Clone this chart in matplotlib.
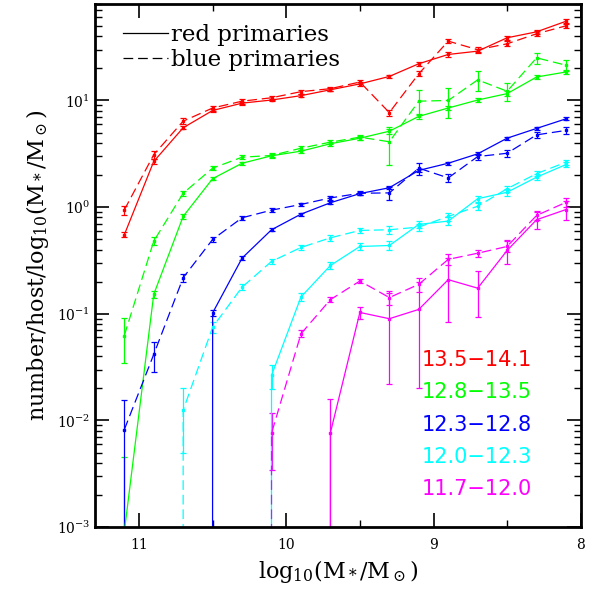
import numpy as np
import matplotlib
matplotlib.use('Agg')
import matplotlib.pyplot as plt
from matplotlib.lines import Line2D
from matplotlib.ticker import MultipleLocator, LogLocator

# stellar mass bin centres, log10(M*/Msun)
mstar = [11.1, 10.9, 10.7, 10.5, 10.3, 10.1, 9.9, 9.7, 9.5, 9.3, 9.1, 8.9, 8.7, 8.5, 8.3, 8.1]

# host halo mass ranges (labels) and colours
halo_bins = ['13.5\u221214.1', '12.8\u221213.5', '12.3\u221212.8', '12.0\u221212.3', '11.7\u221212.0']
colors = ['#ff0000', '#00ff00', '#0000ff', '#00ffff', '#ff00ff']

# red primaries (solid) / blue primaries (dashed), per halo bin
red_135 = [0.55, 2.68, 5.55, 8.06, 9.44, 10.1, 11.1, 12.6, 14.3, 16.8, 22.1, 27.0, 29.0, 38.7, 44.0, 55.3]
red_135_err = [0.03, 0.12, 0.2, 0.25, 0.3, 0.3, 0.35, 0.4, 0.5, 0.7, 0.9, 1.2, 1.4, 1.8, 2.2, 3.0]
blue_135 = [0.94, 3.1, 6.4, 8.5, 9.85, 10.6, 12.1, 12.9, 14.9, 7.7, 17.8, 36.0, 29.9, 34.0, 42.2, 50.1]
blue_135_err = [0.09, 0.25, 0.4, 0.45, 0.5, 0.5, 0.55, 0.6, 0.7, 0.5, 1.0, 1.5, 1.5, 1.8, 2.2, 2.6]

red_128 = [0.0009, 0.152, 0.82, 1.85, 2.58, 3.03, 3.35, 3.93, 4.43, 5.15, 7.1, 8.5, 10.1, 11.6, 16.6, 18.5]
red_128_err = [0.0036, 0.012, 0.04, 0.07, 0.09, 0.1, 0.12, 0.15, 0.18, 0.3, 0.35, 0.4, 0.45, 0.6, 0.7, 0.9]
blue_128 = [0.0625, 0.48, 1.35, 2.32, 2.94, 3.05, 3.57, 4.07, 4.53, 4.1, 9.85, 10.0, 15.6, 12.2, 25.1, 21.4]
blue_128_err = [0.028, 0.04, 0.08, 0.11, 0.13, 0.14, 0.16, 0.2, 0.25, 1.6, 2.6, 3.2, 3.3, 2.3, 3.0, 2.5]

red_123 = [0, 0, 0, 0.102, 0.333, 0.614, 0.86, 1.10, 1.34, 1.52, 2.21, 2.58, 3.16, 4.43, 5.47, 6.73]
red_123_err = [0, 0, 0, 0.006, 0.012, 0.02, 0.025, 0.03, 0.04, 0.05, 0.07, 0.08, 0.1, 0.13, 0.16, 0.2]
blue_123 = [0.0082, 0.0416, 0.218, 0.498, 0.795, 0.937, 1.06, 1.22, 1.35, 1.36, 2.32, 1.88, 2.98, 3.2, 4.76, 5.24]
blue_123_err = [0.0075, 0.013, 0.02, 0.025, 0.03, 0.035, 0.04, 0.05, 0.06, 0.2, 0.3, 0.17, 0.2, 0.25, 0.3, 0.4]

red_120 = [0, 0, 0, 0, 0, 0.0265, 0.144, 0.284, 0.428, 0.437, 0.689, 0.74, 1.2, 1.38, 1.91, 2.51]
red_120_err = [0, 0, 0, 0, 0, 0.0067, 0.012, 0.02, 0.03, 0.04, 0.05, 0.06, 0.08, 0.1, 0.12, 0.15]
blue_120 = [0, 0, 0.0125, 0.075, 0.178, 0.31, 0.419, 0.516, 0.605, 0.614, 0.65, 0.819, 1.02, 1.49, 2.06, 2.64]
blue_120_err = [0, 0, 0.0075, 0.009, 0.012, 0.015, 0.02, 0.03, 0.035, 0.05, 0.05, 0.07, 0.08, 0.1, 0.12, 0.15]

red_117 = [0, 0, 0, 0, 0, 0, 0, 0.0077, 0.103, 0.09, 0.11, 0.209, 0.174, 0.393, 0.762, 0.95]
red_117_err = [0, 0, 0, 0, 0, 0, 0, 0.0082, 0.013, 0.068, 0.09, 0.125, 0.08, 0.1, 0.14, 0.2]
blue_117 = [0, 0, 0, 0, 0, 0.0076, 0.065, 0.136, 0.203, 0.142, 0.189, 0.324, 0.37, 0.428, 0.836, 1.11]
blue_117_err = [0, 0, 0, 0, 0, 0.0042, 0.005, 0.008, 0.01, 0.02, 0.03, 0.04, 0.03, 0.05, 0.08, 0.1]

red_sets = [(red_135, red_135_err), (red_128, red_128_err), (red_123, red_123_err),
            (red_120, red_120_err), (red_117, red_117_err)]
blue_sets = [(blue_135, blue_135_err), (blue_128, blue_128_err), (blue_123, blue_123_err),
             (blue_120, blue_120_err), (blue_117, blue_117_err)]

plt.rcParams['font.family'] = 'DejaVu Serif'
plt.rcParams['mathtext.fontset'] = 'dejavuserif'
plt.rcParams['lines.scale_dashes'] = False

dash = (0, (7, 3.5))

fig, ax = plt.subplots(figsize=(5.89, 5.91), dpi=100)
fig.subplots_adjust(left=0.161, right=0.986, bottom=0.108, top=0.993)
ax.set_yscale('log', nonpositive='clip')

for i in range(5):
    y, e = red_sets[i]
    ax.errorbar(mstar, y, yerr=e, color=colors[i], lw=0.9, marker='s', ms=1.8,
                capsize=2.5, elinewidth=0.9, capthick=0.9)
    y, e = blue_sets[i]
    ax.errorbar(mstar, y, yerr=e, color=colors[i], lw=0.9, ls=dash, marker='s', ms=1.8,
                capsize=2.5, elinewidth=0.9, capthick=0.9)

ax.set_xlim(11.3, 8)
ax.set_ylim(1e-3, 80)

ax.xaxis.set_major_locator(MultipleLocator(1))
ax.xaxis.set_minor_locator(MultipleLocator(0.5))
ax.yaxis.set_minor_locator(LogLocator(base=10, subs=np.arange(2, 10)))
ax.tick_params(which='both', direction='in', top=True, right=True, labelsize=10)
ax.tick_params(which='major', length=10, width=1.2)
ax.tick_params(which='minor', length=5, width=1)
ax.tick_params(axis='x', pad=8)
for s in ax.spines.values():
    s.set_linewidth(2)

ax.set_xlabel(r'log$_{10}$(M$_*$/M$_\odot$)', fontsize=16)
ax.set_ylabel(r'number/host/log$_{10}$(M$_*$/M$_\odot$)', fontsize=16)

# legend for line styles
handles = [Line2D([], [], color='k', lw=0.9),
           Line2D([], [], color='k', lw=0.9, ls=dash)]
ax.legend(handles, ['red primaries', 'blue primaries'], loc='upper left',
          bbox_to_anchor=(0.057, 0.962), frameon=False, fontsize=16.5,
          handlelength=2.0, handletextpad=0.1, labelspacing=0.12,
          borderpad=0, borderaxespad=0)

# halo mass labels
for i in range(5):
    ax.text(0.672, 0.319 - i * 0.0615, halo_bins[i], color=colors[i],
            transform=ax.transAxes, va='center', ha='left', fontsize=15,
            family='DejaVu Sans')

plt.savefig('out.png', dpi=100)
